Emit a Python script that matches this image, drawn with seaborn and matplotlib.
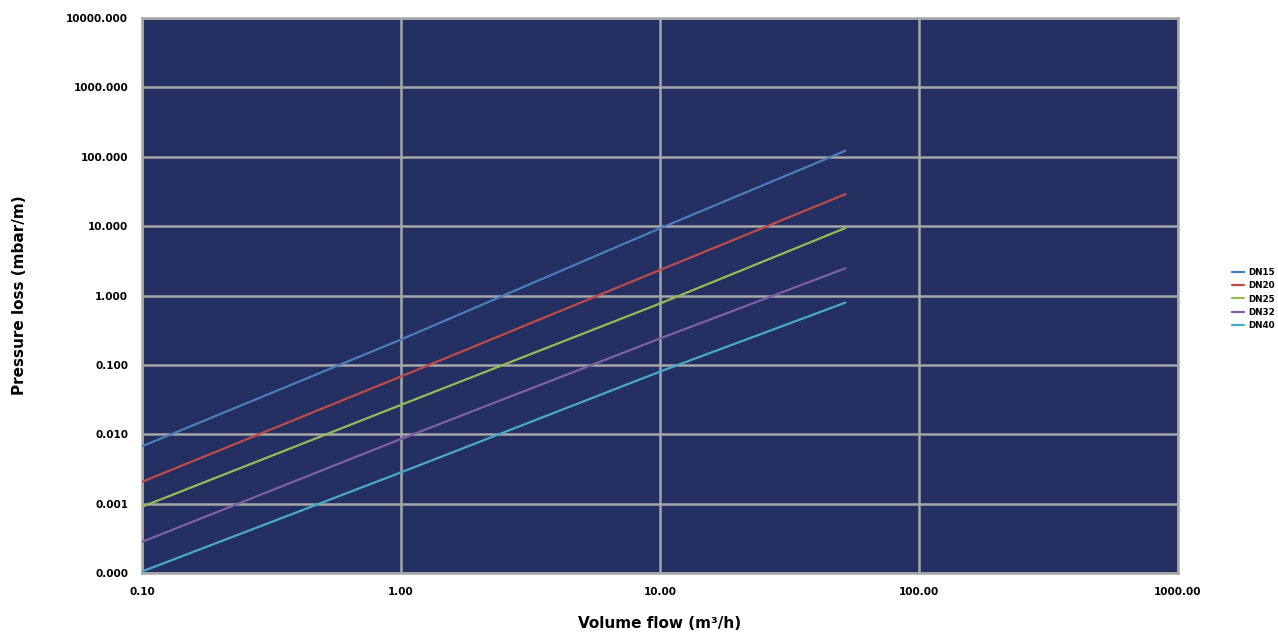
import matplotlib
matplotlib.use("Agg")
import matplotlib.pyplot as plt
import matplotlib.ticker as mticker
import seaborn as sns
import pandas as pd

# Data (log-log straight lines)
flow = [0.1, 1.0, 10.0, 52.0]
series_names = ["DN15", "DN20", "DN25", "DN32", "DN40"]
s1 = [0.0067, 0.232, 9.3, 122.0]
s2 = [0.00206, 0.068, 2.33, 28.9]
s3 = [0.00090, 0.0265, 0.766, 9.4]
s4 = [0.000281, 0.00855, 0.24, 2.47]
s5 = [0.000105, 0.00282, 0.080, 0.79]
colors = ["#4a7ebb", "#be4b48", "#98b954", "#7d60a0", "#46aac5"]

x_ticks = [0.1, 1, 10, 100, 1000]
y_ticks = [0.0001, 0.001, 0.01, 0.1, 1, 10, 100, 1000, 10000]

rows = []
for name, vals in zip(series_names, [s1, s2, s3, s4, s5]):
    for q, p in zip(flow, vals):
        rows.append({"flow": q, "loss": p, "series": name})
df = pd.DataFrame(rows)

sns.set_style("white")
plt.rcParams["font.family"] = ["DejaVu Sans"]
plt.rcParams["text.color"] = "black"
plt.rcParams["axes.labelcolor"] = "black"
plt.rcParams["xtick.labelcolor"] = "black"
plt.rcParams["ytick.labelcolor"] = "black"

fig = plt.figure(figsize=(12.78, 6.35), dpi=100)
ax = fig.add_axes([142 / 1278, 1 - 573 / 635, (1178 - 142) / 1278, (573 - 18) / 635])
ax.set_facecolor("#243062")

sns.lineplot(data=df, x="flow", y="loss", hue="series", palette=colors,
             ax=ax, linewidth=1.6, legend=True, zorder=3)

ax.set_xscale("log")
ax.set_yscale("log")
ax.set_xlim(0.1, 1000)
ax.set_ylim(0.0001, 10000)
ax.xaxis.set_major_locator(mticker.FixedLocator(x_ticks))
ax.yaxis.set_major_locator(mticker.FixedLocator(y_ticks))
ax.xaxis.set_minor_locator(mticker.NullLocator())
ax.yaxis.set_minor_locator(mticker.NullLocator())
ax.xaxis.set_major_formatter(mticker.FuncFormatter(lambda v, p: f"{v:.2f}"))
ax.yaxis.set_major_formatter(mticker.FuncFormatter(lambda v, p: f"{v:.3f}"))

ax.grid(True, color="#a6a6a6", linewidth=1.8, zorder=1)
ax.set_axisbelow(True)
for s in ax.spines.values():
    s.set_color("#a6a6a6")
    s.set_linewidth(1.8)
ax.tick_params(axis="both", which="major", length=5, width=1.5, color="#a6a6a6",
               labelsize=7.5, pad=5, labelcolor="black")
for lab in ax.get_xticklabels() + ax.get_yticklabels():
    lab.set_fontweight("bold")

ax.set_xlabel("Volume flow (m³/h)", fontsize=11, fontweight="bold", labelpad=14,
              color="black")
ax.set_ylabel("Pressure loss (mbar/m)", fontsize=11, fontweight="bold", color="black")
ax.yaxis.set_label_coords((27 - 142) / 1036, 0.5)

leg = ax.legend(loc="center left", bbox_to_anchor=(1226 / 1278, 1 - 299 / 635),
                bbox_transform=fig.transFigure, frameon=False, fontsize=6.3,
                handlelength=1.3, handletextpad=0.5, labelspacing=0.5,
                borderpad=0.2)
for t in leg.get_texts():
    t.set_fontweight("bold")
    t.set_color("black")

fig.savefig("out.png", dpi=100)
